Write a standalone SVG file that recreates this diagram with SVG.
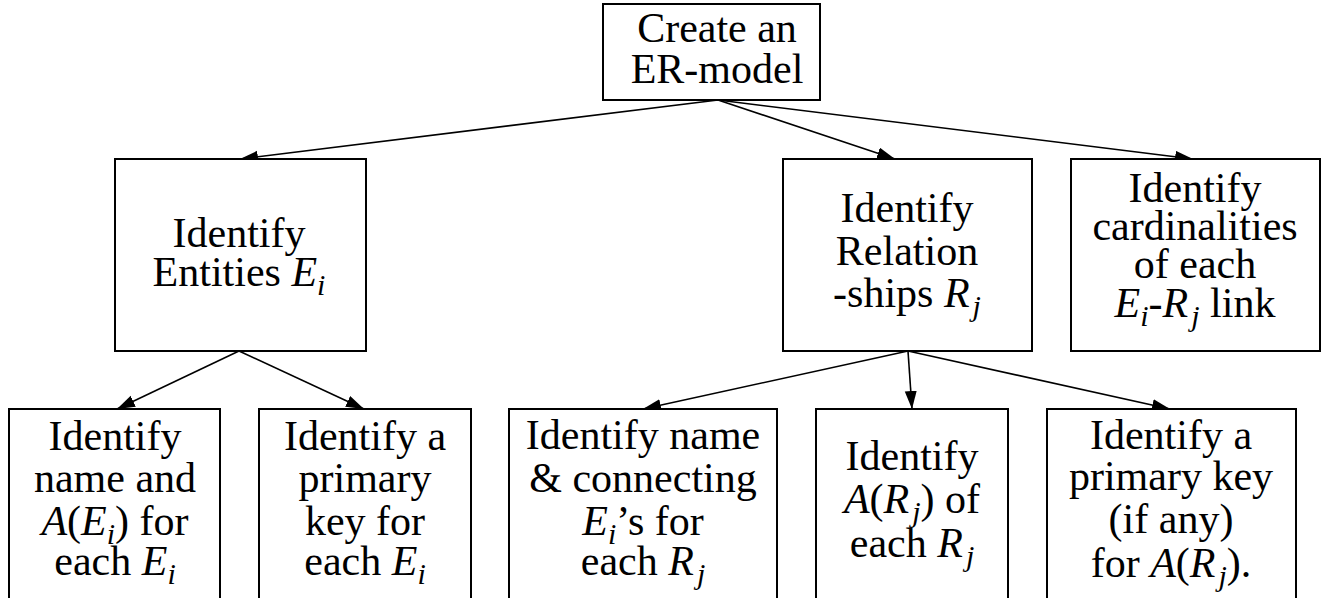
<svg xmlns="http://www.w3.org/2000/svg" width="1324" height="598" viewBox="0 0 1324 598">
<defs>
<marker id="ah" markerUnits="userSpaceOnUse" markerWidth="20" markerHeight="14" refX="18" refY="6" orient="auto">
<path d="M0,0 L18,6 L0,12 Z" fill="#000"/>
</marker>
</defs>
<rect width="1324" height="598" fill="#fff"/>
<g id="connectors" stroke="#000" stroke-width="1.6" fill="none" marker-end="url(#ah)">
<line x1="718" y1="100" x2="240" y2="159"/>
<line x1="718" y1="100" x2="895" y2="159"/>
<line x1="718" y1="100" x2="1193" y2="159"/>
<line x1="239" y1="351" x2="117" y2="409"/>
<line x1="239" y1="351" x2="364" y2="409"/>
<line x1="908" y1="351" x2="643" y2="409"/>
<line x1="908" y1="351" x2="912" y2="409"/>
<line x1="908" y1="351" x2="1170" y2="409"/>
</g>
<g id="n-create">
<rect fill="#fff" stroke="#000" stroke-width="2" x="603" y="4" width="217" height="96"/>
<text font-family="Liberation Serif" font-size="42" text-anchor="middle" x="717" y="42">Create an</text>
<text font-family="Liberation Serif" font-size="42" text-anchor="middle" x="717" y="83">ER-model</text>
</g>
<g id="n-entities">
<rect fill="#fff" stroke="#000" stroke-width="2" x="115" y="159" width="251" height="192"/>
<text font-family="Liberation Serif" font-size="42" text-anchor="middle" x="239" y="247">Identify</text>
<text font-family="Liberation Serif" font-size="42" text-anchor="middle" x="239" y="286">Entities <tspan font-style="italic">E</tspan><tspan font-style="italic" font-size="30" dy="9">i</tspan></text>
</g>
<g id="n-relationships">
<rect fill="#fff" stroke="#000" stroke-width="2" x="783" y="159" width="249" height="192"/>
<text font-family="Liberation Serif" font-size="42" text-anchor="middle" x="907" y="222">Identify</text>
<text font-family="Liberation Serif" font-size="42" text-anchor="middle" x="907" y="265">Relation</text>
<text font-family="Liberation Serif" font-size="42" text-anchor="middle" x="907" y="307">-ships <tspan font-style="italic">R</tspan><tspan font-style="italic" font-size="30" dx="3" dy="9">j</tspan></text>
</g>
<g id="n-cardinalities">
<rect fill="#fff" stroke="#000" stroke-width="2" x="1071" y="159" width="249" height="192"/>
<text font-family="Liberation Serif" font-size="42" text-anchor="middle" x="1195" y="202">Identify</text>
<text font-family="Liberation Serif" font-size="42" text-anchor="middle" x="1195" y="240">cardinalities</text>
<text font-family="Liberation Serif" font-size="42" text-anchor="middle" x="1195" y="278">of each</text>
<text font-family="Liberation Serif" font-size="42" text-anchor="middle" x="1195" y="317"><tspan font-style="italic">E</tspan><tspan font-style="italic" font-size="30" dy="9">i</tspan><tspan dy="-9">-</tspan><tspan font-style="italic">R</tspan><tspan font-style="italic" font-size="30" dx="3" dy="9">j</tspan><tspan dy="-9"> link</tspan></text>
</g>
<g id="n-name-attrs">
<rect fill="#fff" stroke="#000" stroke-width="2" x="9" y="409" width="211" height="200"/>
<text font-family="Liberation Serif" font-size="42" text-anchor="middle" x="115" y="450">Identify</text>
<text font-family="Liberation Serif" font-size="42" text-anchor="middle" x="115" y="492">name and</text>
<text font-family="Liberation Serif" font-size="42" text-anchor="middle" x="115" y="535"><tspan font-style="italic">A</tspan>(<tspan font-style="italic">E</tspan><tspan font-style="italic" font-size="30" dy="9">i</tspan><tspan dy="-9">) for</tspan></text>
<text font-family="Liberation Serif" font-size="42" text-anchor="middle" x="115" y="575">each <tspan font-style="italic">E</tspan><tspan font-style="italic" font-size="30" dy="9">i</tspan></text>
</g>
<g id="n-entity-key">
<rect fill="#fff" stroke="#000" stroke-width="2" x="259" y="409" width="212" height="200"/>
<text font-family="Liberation Serif" font-size="42" text-anchor="middle" x="365" y="450">Identify a</text>
<text font-family="Liberation Serif" font-size="42" text-anchor="middle" x="365" y="492">primary</text>
<text font-family="Liberation Serif" font-size="42" text-anchor="middle" x="365" y="535">key for</text>
<text font-family="Liberation Serif" font-size="42" text-anchor="middle" x="365" y="575">each <tspan font-style="italic">E</tspan><tspan font-style="italic" font-size="30" dy="9">i</tspan></text>
</g>
<g id="n-rel-name">
<rect fill="#fff" stroke="#000" stroke-width="2" x="509" y="409" width="268" height="200"/>
<text font-family="Liberation Serif" font-size="42" text-anchor="middle" x="643" y="449">Identify name</text>
<text font-family="Liberation Serif" font-size="42" text-anchor="middle" x="643" y="492">&amp; connecting</text>
<text font-family="Liberation Serif" font-size="42" text-anchor="middle" x="643" y="535"><tspan font-style="italic">E</tspan><tspan font-style="italic" font-size="30" dy="9">i</tspan><tspan dy="-9">&#8217;s for</tspan></text>
<text font-family="Liberation Serif" font-size="42" text-anchor="middle" x="643" y="575">each <tspan font-style="italic">R</tspan><tspan font-style="italic" font-size="30" dx="3" dy="9">j</tspan></text>
</g>
<g id="n-rel-attrs">
<rect fill="#fff" stroke="#000" stroke-width="2" x="816" y="409" width="192" height="200"/>
<text font-family="Liberation Serif" font-size="42" text-anchor="middle" x="912" y="470">Identify</text>
<text font-family="Liberation Serif" font-size="42" text-anchor="middle" x="912" y="513"><tspan font-style="italic">A</tspan>(<tspan font-style="italic">R</tspan><tspan font-style="italic" font-size="30" dx="3" dy="9">j</tspan><tspan dy="-9">) of</tspan></text>
<text font-family="Liberation Serif" font-size="42" text-anchor="middle" x="912" y="557">each <tspan font-style="italic">R</tspan><tspan font-style="italic" font-size="30" dx="3" dy="9">j</tspan></text>
</g>
<g id="n-rel-key">
<rect fill="#fff" stroke="#000" stroke-width="2" x="1047" y="409" width="249" height="200"/>
<text font-family="Liberation Serif" font-size="42" text-anchor="middle" x="1171" y="449">Identify a</text>
<text font-family="Liberation Serif" font-size="42" text-anchor="middle" x="1171" y="490">primary key</text>
<text font-family="Liberation Serif" font-size="42" text-anchor="middle" x="1171" y="533">(if any)</text>
<text font-family="Liberation Serif" font-size="42" text-anchor="middle" x="1171" y="577">for <tspan font-style="italic">A</tspan>(<tspan font-style="italic">R</tspan><tspan font-style="italic" font-size="30" dx="3" dy="9">j</tspan><tspan dy="-9">).</tspan></text>
</g>
</svg>
